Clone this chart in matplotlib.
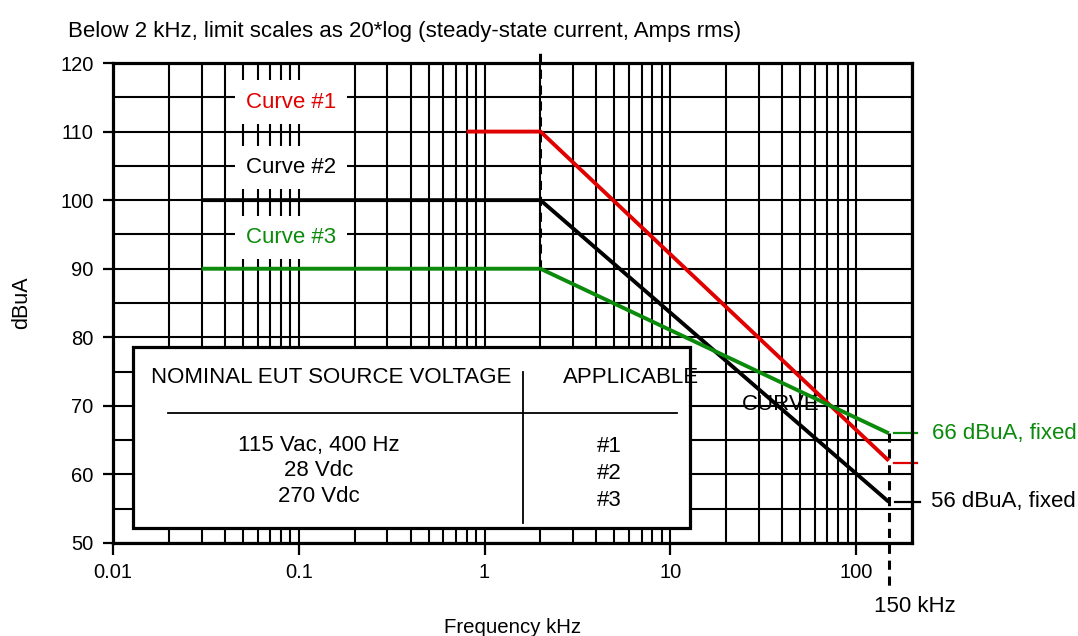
import matplotlib
matplotlib.use("Agg")
import matplotlib.pyplot as plt
from matplotlib.ticker import LogLocator, NullFormatter, FixedLocator, FuncFormatter
from matplotlib.patches import Rectangle

plt.rcParams['font.family'] = ['Liberation Sans', 'DejaVu Sans']

# ---- data ----
curve1_freq = [0.8, 2, 150]
curve1_db = [110, 110, 62]
curve2_freq = [0.03, 2, 150]
curve2_db = [100, 100, 56]
curve3_freq = [0.03, 2, 150]
curve3_db = [90, 90, 66]

x_ticks = [0.01, 0.1, 1, 10, 100]
x_tick_labels = ["0.01", "0.1", "1", "10", "100"]
y_ticks = [50, 60, 70, 80, 90, 100, 110, 120]

curve_names = ["Curve #1", "Curve #2", "Curve #3"]
curve_label_db = [114.3, 104.8, 94.6]
curve_label_freq = 0.091

table_voltages = ["115 Vac, 400 Hz", "28 Vdc", "270 Vdc"]
table_curves = ["#1", "#2", "#3"]

RED = '#e00000'
GREEN = '#0b8a0b'
BLACK = '#000000'

fig = plt.figure(figsize=(10.78, 6.36), dpi=100)
ax = fig.add_axes([113/1078, 1-543/636, (912-113)/1078, (543-63)/636])

ax.set_xscale('log')
ax.set_xlim(0.01, 200)
ax.set_ylim(50, 120)

ax.xaxis.set_major_locator(FixedLocator(x_ticks))
ax.xaxis.set_major_formatter(FuncFormatter(lambda v, p: x_tick_labels[x_ticks.index(v)] if v in x_ticks else ""))
ax.xaxis.set_minor_locator(LogLocator(base=10, subs=range(2, 10), numticks=20))
ax.xaxis.set_minor_formatter(NullFormatter())
ax.yaxis.set_major_locator(FixedLocator(y_ticks))
ax.yaxis.set_minor_locator(FixedLocator([55, 65, 75, 85, 95, 105, 115]))

ax.grid(True, which='both', axis='both', color='black', linewidth=1.5, zorder=1)
ax.set_axisbelow(True)
ax.tick_params(axis='y', which='major', direction='out', length=7, width=1.6, labelsize=14.5, pad=7)
ax.tick_params(axis='x', which='major', direction='out', length=8.5, width=1.6, labelsize=14.5, pad=6)
ax.tick_params(axis='both', which='minor', length=0)
for s in ax.spines.values():
    s.set_linewidth(2.3)
    s.set_zorder(6)

fs = 16

# table (annotation box)
ax.add_patch(Rectangle((0.025, 0.031), 0.697, 0.377, transform=ax.transAxes,
                       facecolor='white', edgecolor='none', zorder=3))
ax.add_patch(Rectangle((0.025, 0.031), 0.697, 0.377, transform=ax.transAxes,
                       facecolor='none', edgecolor='black', linewidth=2.3, zorder=4.5))
ax.plot([0.513, 0.513], [0.042, 0.356], transform=ax.transAxes, color='black', lw=1.3, zorder=4)
ax.plot([0.069, 0.706], [0.271, 0.271], transform=ax.transAxes, color='black', lw=1.3, zorder=4)
ax.text(0.273, 0.345, "NOMINAL EUT SOURCE VOLTAGE", transform=ax.transAxes, ha='center', va='center', fontsize=fs, zorder=4)
ax.text(0.648, 0.345, "APPLICABLE", transform=ax.transAxes, ha='center', va='center', fontsize=fs, zorder=4)
ax.text(0.836, 0.289, "CURVE", transform=ax.transAxes, ha='center', va='center', fontsize=fs, zorder=4)
for i, t in enumerate(table_voltages):
    ax.text(0.258, 0.204 - i*0.054, t, transform=ax.transAxes, ha='center', va='center', fontsize=fs, zorder=4)
for i, t in enumerate(table_curves):
    ax.text(0.621, 0.201 - i*0.056, t, transform=ax.transAxes, ha='center', va='center', fontsize=fs, zorder=4)

# dashed markers
ax.plot([2, 2], [90, 122], color='black', lw=2.2, ls=(0, (3, 2.2)), zorder=5, clip_on=False)
ax.plot([150, 150], [66, 43.2], color='black', lw=2.2, ls=(0, (3, 2.2)), zorder=5, clip_on=False)

# curves
ax.plot(curve1_freq, curve1_db, color=RED, lw=2.8, zorder=5, solid_capstyle='butt')
ax.plot(curve2_freq, curve2_db, color=BLACK, lw=2.8, zorder=5, solid_capstyle='butt')
ax.plot(curve3_freq, curve3_db, color=GREEN, lw=2.8, zorder=5, solid_capstyle='butt')

# curve labels
for name, db, col in zip(curve_names, curve_label_db, [RED, BLACK, GREEN]):
    ax.text(curve_label_freq, db, name, color=col, ha='center', va='center', fontsize=fs, zorder=4,
            bbox=dict(boxstyle='square,pad=0.5', facecolor='white', edgecolor='none'))

# right-side labels
ax.plot([160, 212], [curve3_db[-1], curve3_db[-1]], color=GREEN, lw=1.6, clip_on=False, zorder=5)
ax.plot([160, 212], [61.7, 61.7], color=RED, lw=1.6, clip_on=False, zorder=5)
ax.plot([162, 220], [curve2_db[-1], curve2_db[-1]], color=BLACK, lw=1.6, clip_on=False, zorder=5)
ax.text(255, curve3_db[-1], "66 dBuA, fixed", color=GREEN, ha='left', va='center', fontsize=fs, clip_on=False)
ax.text(252, curve2_db[-1], "56 dBuA, fixed", color=BLACK, ha='left', va='center', fontsize=fs, clip_on=False)
ax.text(125, 40.7, "150 kHz", color=BLACK, ha='left', va='center', fontsize=fs, clip_on=False)

ax.set_xlabel("Frequency kHz", fontsize=14.7, labelpad=26)
ax.set_ylabel("dBuA", fontsize=15.5, labelpad=20)
fig.text(68/1078, 1-32/636, "Below 2 kHz, limit scales as 20*log (steady-state current, Amps rms)",
         ha='left', va='center', fontsize=16)

fig.savefig("out.png", dpi=100)
